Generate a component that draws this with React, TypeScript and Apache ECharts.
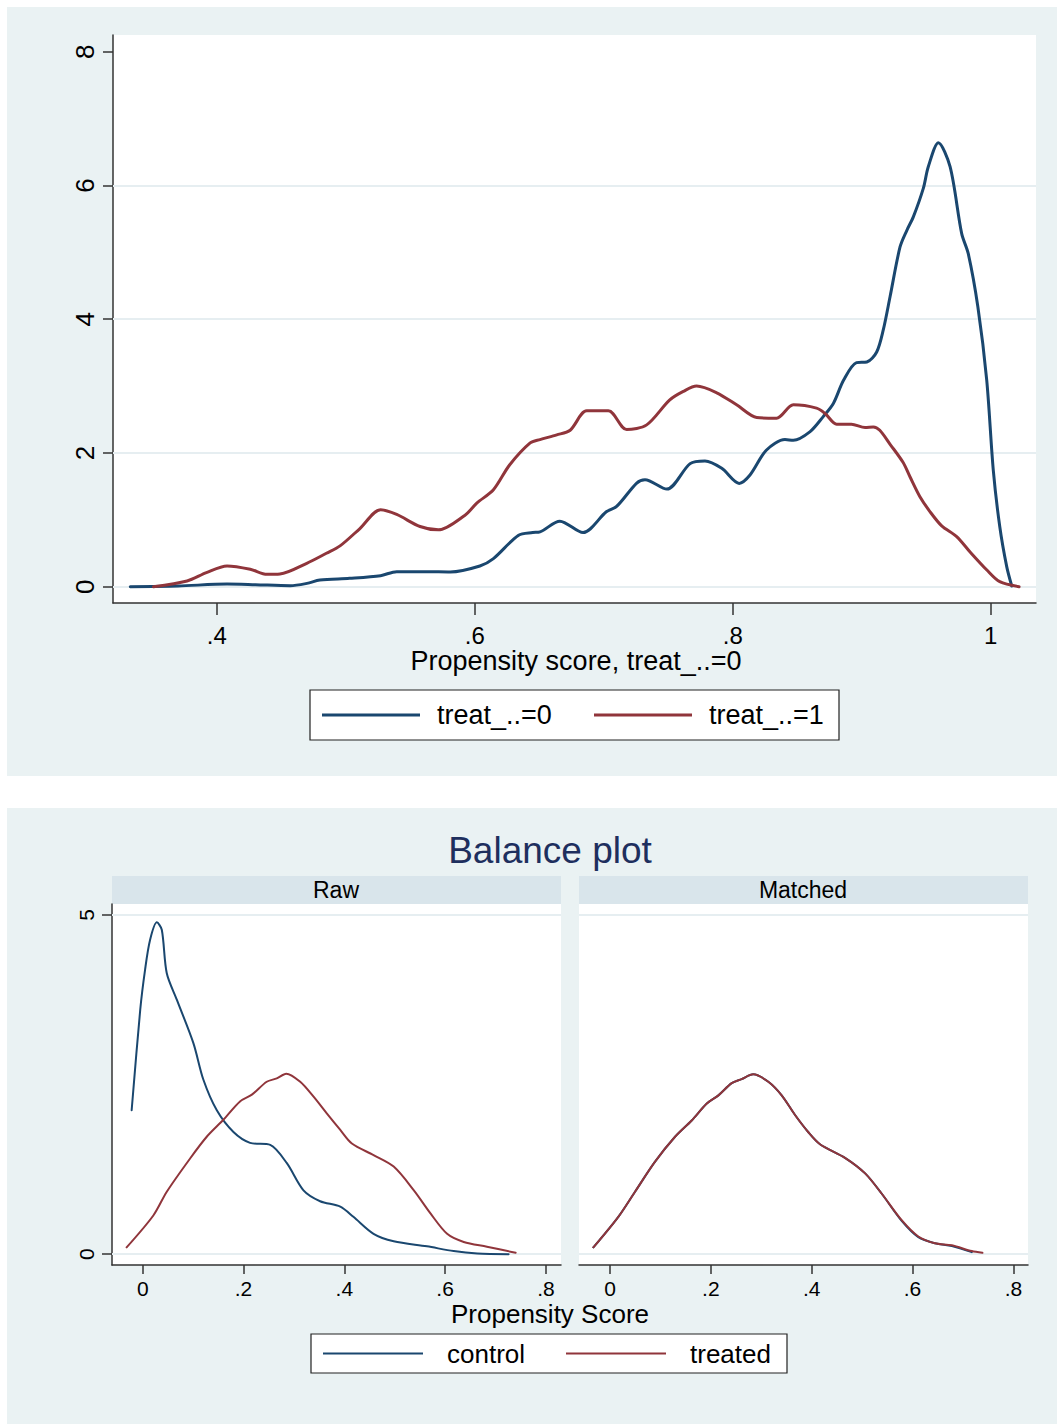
import React, { useEffect, useRef } from 'react';
import * as echarts from 'echarts';

const NAVY = '#1a476f';
const MAROON = '#90353b';
const PANEL_BG = '#eaf2f3';
const STRIP_BG = '#d9e5eb';
const GRID_LINE = '#e6eef1';
const AXIS_COLOR = '#333333';
const FONT = '"Liberation Sans", Arial, Helvetica, sans-serif';

// ---------- Top chart: kernel densities of the propensity score ----------
const topXTicks = [0.4, 0.6, 0.8, 1];
const topYTicks = [0, 2, 4, 6, 8];
const topGridValues = [0, 2, 4, 6];
const topSeriesNames = ['treat_..=0', 'treat_..=1'];
const topXTitle = 'Propensity score, treat_..=0';

const treat0X = [0.333, 0.37, 0.408, 0.43, 0.457, 0.47, 0.48, 0.503, 0.527, 0.5395, 0.563, 0.581, 0.604, 0.6145, 0.634, 0.645, 0.6506, 0.666, 0.684, 0.702, 0.71, 0.7256, 0.732, 0.749, 0.767, 0.7785, 0.7915, 0.805, 0.8134, 0.826, 0.8405, 0.847, 0.86, 0.87, 0.878, 0.886, 0.896, 0.904, 0.9116, 0.9167, 0.922, 0.9297, 0.935, 0.94, 0.9478, 0.9516, 0.9594, 0.9685, 0.9775, 0.9826, 0.99, 0.9969, 1.002, 1.007, 1.0124, 1.0163];
const treat0Y = [0, 0.01, 0.04, 0.03, 0.015, 0.05, 0.1, 0.125, 0.165, 0.225, 0.225, 0.22, 0.31, 0.42, 0.77, 0.81, 0.82, 0.98, 0.81, 1.12, 1.2, 1.55, 1.6, 1.46, 1.84, 1.88, 1.77, 1.545, 1.67, 2.04, 2.2, 2.19, 2.32, 2.54, 2.74, 3.09, 3.35, 3.36, 3.51, 3.84, 4.34, 5.08, 5.33, 5.53, 5.96, 6.28, 6.64, 6.28, 5.28, 4.98, 4.19, 3.09, 1.74, 0.9, 0.3, 0.01];

const treat1X = [0.351, 0.377, 0.392, 0.408, 0.426, 0.439, 0.449, 0.4698, 0.485, 0.4956, 0.511, 0.527, 0.5395, 0.5576, 0.5718, 0.5925, 0.6016, 0.6145, 0.627, 0.643, 0.6506, 0.6636, 0.674, 0.6868, 0.7036, 0.7178, 0.7333, 0.751, 0.7617, 0.772, 0.7876, 0.803, 0.8186, 0.834, 0.847, 0.865, 0.8716, 0.8806, 0.892, 0.9026, 0.909, 0.914, 0.922, 0.932, 0.9375, 0.945, 0.953, 0.962, 0.9736, 0.984, 0.997, 1.007, 1.022];
const treat1Y = [0, 0.085, 0.21, 0.31, 0.26, 0.185, 0.19, 0.35, 0.5, 0.61, 0.87, 1.15, 1.08, 0.9, 0.85, 1.07, 1.25, 1.45, 1.82, 2.15, 2.2, 2.27, 2.34, 2.63, 2.63, 2.35, 2.42, 2.79, 2.92, 3.0, 2.9, 2.72, 2.53, 2.52, 2.72, 2.67, 2.59, 2.43, 2.43, 2.38, 2.39, 2.34, 2.13, 1.86, 1.64, 1.35, 1.12, 0.91, 0.75, 0.52, 0.25, 0.075, 0];

// ---------- Bottom chart: Balance plot ----------
const balanceTitle = 'Balance plot';
const panelTitles = ['Raw', 'Matched'];
const balXTicks = [0, 0.2, 0.4, 0.6, 0.8];
const balYTicks = [0, 5];
const balGridValues = [0, 5];
const balSeriesNames = ['control', 'treated'];
const balXTitle = 'Propensity Score';

const rawControlX = [-0.022, -0.005, 0.0046, 0.0145, 0.028, 0.0378, 0.0477, 0.0676, 0.1005, 0.1204, 0.147, 0.18, 0.213, 0.253, 0.286, 0.319, 0.352, 0.392, 0.418, 0.458, 0.498, 0.564, 0.617, 0.664, 0.726];
const rawControlY = [2.12, 3.6, 4.19, 4.63, 4.89, 4.78, 4.14, 3.75, 3.11, 2.57, 2.12, 1.8, 1.64, 1.61, 1.34, 0.94, 0.78, 0.7, 0.55, 0.3, 0.19, 0.115, 0.045, 0.01, 0];

const rawTreatedX = [-0.032, 0.021, 0.0477, 0.094, 0.127, 0.16, 0.193, 0.2166, 0.246, 0.266, 0.2847, 0.3125, 0.339, 0.3656, 0.392, 0.415, 0.458, 0.498, 0.538, 0.571, 0.604, 0.637, 0.683, 0.74];
const rawTreatedY = [0.1, 0.57, 0.92, 1.41, 1.73, 1.98, 2.25, 2.35, 2.54, 2.59, 2.66, 2.54, 2.32, 2.07, 1.83, 1.63, 1.46, 1.29, 0.94, 0.6, 0.3, 0.18, 0.11, 0.02];

const matchedControlX = [-0.033, 0.0165, 0.0496, 0.089, 0.129, 0.162, 0.192, 0.215, 0.2414, 0.261, 0.284, 0.314, 0.3405, 0.367, 0.393, 0.4165, 0.466, 0.506, 0.539, 0.5785, 0.6115, 0.6446, 0.678, 0.7175];
const matchedControlY = [0.1, 0.55, 0.92, 1.36, 1.73, 1.97, 2.22, 2.34, 2.52, 2.58, 2.65, 2.54, 2.34, 2.05, 1.8, 1.62, 1.42, 1.19, 0.89, 0.49, 0.25, 0.16, 0.12, 0.03];

const matchedTreatedX = [-0.033, 0.0165, 0.0496, 0.089, 0.129, 0.162, 0.192, 0.215, 0.2414, 0.261, 0.284, 0.314, 0.3405, 0.367, 0.393, 0.4165, 0.466, 0.506, 0.539, 0.5785, 0.6115, 0.6446, 0.678, 0.7175, 0.7386];
const matchedTreatedY = [0.1, 0.55, 0.92, 1.36, 1.73, 1.97, 2.22, 2.34, 2.52, 2.58, 2.65, 2.54, 2.34, 2.05, 1.8, 1.62, 1.42, 1.19, 0.89, 0.5, 0.26, 0.16, 0.13, 0.045, 0.02];

const zip = (xs: number[], ys: number[]) => xs.map((x, i) => [x, ys[i]]);

const fmtTick = (v: number) => {
  if (Math.abs(v) < 1e-9) return '0';
  if (Math.abs(v - Math.round(v)) < 1e-9) return String(Math.round(v));
  return String(+v.toFixed(2)).replace(/^0\./, '.');
};

const gridMarkLine = (vals: number[]) => ({
  silent: true,
  z: 1,
  symbol: ['none', 'none'],
  label: { show: false },
  emphasis: { disabled: true },
  lineStyle: { color: GRID_LINE, width: 2, type: 'solid' },
  data: vals.map((v) => ({ yAxis: v })),
});

const lineSeries = (name: string, data: number[][], color: string, width: number, xi: number, extra: any = {}) => ({
  type: 'line',
  name,
  data,
  xAxisIndex: xi,
  yAxisIndex: xi,
  showSymbol: false,
  symbol: 'none',
  smooth: 0.3,
  z: 2,
  lineStyle: { color, width, join: 'round', cap: 'round' },
  itemStyle: { color },
  emphasis: { disabled: true },
  ...extra,
});

const xAxisCfg = (gridIndex: number, min: number, max: number, ticks: number[], fontSize: number, margin: number, tickLen: number) => ({
  type: 'value',
  gridIndex,
  min,
  max,
  axisLine: { show: true, onZero: false, lineStyle: { color: AXIS_COLOR, width: 1.5 } },
  axisTick: { show: true, customValues: ticks, length: tickLen, lineStyle: { color: AXIS_COLOR, width: 1.5 } },
  axisLabel: { show: true, customValues: ticks, formatter: fmtTick, fontSize, margin, color: '#000', fontFamily: FONT },
  splitLine: { show: false },
});

const yAxisCfg = (gridIndex: number, min: number, max: number, ticks: number[], fontSize: number, margin: number, tickLen: number, visible: boolean) => ({
  type: 'value',
  gridIndex,
  min,
  max,
  show: visible,
  axisLine: { show: true, onZero: false, lineStyle: { color: AXIS_COLOR, width: 1.5 } },
  axisTick: { show: true, customValues: ticks, length: tickLen, lineStyle: { color: AXIS_COLOR, width: 1.5 } },
  axisLabel: { show: true, customValues: ticks, formatter: fmtTick, fontSize, margin, rotate: 90, color: '#000', fontFamily: FONT },
  splitLine: { show: false },
});

const legendGroup = (box: { x: number; y: number; w: number; h: number }, items: { x1: number; x2: number; tx: number; label: string; color: string }[], lineW: number, fontSize: number) => [
  { type: 'rect', shape: { x: box.x, y: box.y, width: box.w, height: box.h }, style: { fill: '#fff', stroke: '#222', lineWidth: 1.2 }, z: 5 },
  ...items.flatMap((it) => [
    { type: 'line', shape: { x1: it.x1, y1: box.y + box.h / 2, x2: it.x2, y2: box.y + box.h / 2 }, style: { stroke: it.color, lineWidth: lineW }, z: 6 },
    { type: 'text', x: it.tx, y: box.y + box.h / 2, style: { text: it.label, fontSize, fontFamily: FONT, fill: '#000', textAlign: 'left', textVerticalAlign: 'middle' }, z: 6 },
  ]),
];

export default function App() {
  const ref = useRef<HTMLDivElement>(null);

  useEffect(() => {
    if (!ref.current) return;
    const chart = echarts.init(ref.current, null, { renderer: 'svg' });

    const option: any = {
      animation: false,
      backgroundColor: '#ffffff',
      grid: [
        { left: 113, top: 35, width: 923, height: 568, show: true, backgroundColor: '#fff', borderWidth: 0 },
        { left: 112, top: 904, width: 449, height: 361, show: true, backgroundColor: '#fff', borderWidth: 0 },
        { left: 579, top: 904, width: 449, height: 361, show: true, backgroundColor: '#fff', borderWidth: 0 },
      ],
      xAxis: [
        xAxisCfg(0, 0.3196, 1.0351, topXTicks, 24, 20, 12),
        xAxisCfg(1, -0.061, 0.83, balXTicks, 21, 13, 9),
        xAxisCfg(2, -0.0615, 0.829, balXTicks, 21, 13, 9),
      ],
      yAxis: [
        yAxisCfg(0, -0.2437, 8.25, topYTicks, 26, 15, 10, true),
        yAxisCfg(1, -0.16, 5.16, balYTicks, 21, 15, 10, true),
        yAxisCfg(2, -0.16, 5.16, balYTicks, 21, 15, 10, false),
      ],
      series: [
        lineSeries(topSeriesNames[0], zip(treat0X, treat0Y), NAVY, 3, 0, { markLine: gridMarkLine(topGridValues) }),
        lineSeries(topSeriesNames[1], zip(treat1X, treat1Y), MAROON, 3, 0),
        lineSeries(balSeriesNames[0], zip(rawControlX, rawControlY), NAVY, 2, 1, { markLine: gridMarkLine(balGridValues) }),
        lineSeries(balSeriesNames[1], zip(rawTreatedX, rawTreatedY), MAROON, 2, 1),
        lineSeries(balSeriesNames[0], zip(matchedControlX, matchedControlY), NAVY, 2, 2, { markLine: gridMarkLine(balGridValues) }),
        lineSeries(balSeriesNames[1], zip(matchedTreatedX, matchedTreatedY), MAROON, 2, 2),
      ],
      graphic: [
        { type: 'rect', shape: { x: 7, y: 7, width: 1050, height: 769 }, style: { fill: PANEL_BG }, z: -10, silent: true },
        { type: 'rect', shape: { x: 7, y: 808, width: 1050, height: 616 }, style: { fill: PANEL_BG }, z: -10, silent: true },
        { type: 'text', x: 576, y: 661, style: { text: topXTitle, fontSize: 27, fontFamily: FONT, fill: '#000', textAlign: 'center', textVerticalAlign: 'middle' } },
        ...legendGroup({ x: 310, y: 690, w: 529, h: 50 }, [
          { x1: 322, x2: 420, tx: 437, label: topSeriesNames[0], color: NAVY },
          { x1: 594, x2: 692, tx: 709, label: topSeriesNames[1], color: MAROON },
        ], 3, 27),
        { type: 'text', x: 550, y: 850, style: { text: balanceTitle, fontSize: 37, fontFamily: FONT, fill: '#1e2f5e', textAlign: 'center', textVerticalAlign: 'middle' } },
        { type: 'rect', shape: { x: 112, y: 876, width: 449, height: 28 }, style: { fill: STRIP_BG }, silent: true },
        { type: 'rect', shape: { x: 579, y: 876, width: 449, height: 28 }, style: { fill: STRIP_BG }, silent: true },
        { type: 'text', x: 336, y: 890, style: { text: panelTitles[0], fontSize: 23, fontFamily: FONT, fill: '#000', textAlign: 'center', textVerticalAlign: 'middle' } },
        { type: 'text', x: 803, y: 890, style: { text: panelTitles[1], fontSize: 23, fontFamily: FONT, fill: '#000', textAlign: 'center', textVerticalAlign: 'middle' } },
        { type: 'text', x: 550, y: 1314, style: { text: balXTitle, fontSize: 26, fontFamily: FONT, fill: '#000', textAlign: 'center', textVerticalAlign: 'middle' } },
        ...legendGroup({ x: 311, y: 1334, w: 476, h: 39 }, [
          { x1: 323, x2: 423, tx: 447, label: balSeriesNames[0], color: NAVY },
          { x1: 566, x2: 666, tx: 690, label: balSeriesNames[1], color: MAROON },
        ], 2, 26),
      ],
    };

    chart.setOption(option);
    return () => chart.dispose();
  }, []);

  return <div ref={ref} style={{ position: 'absolute', left: 0, top: 0, width: 1057, height: 1424 }} />;
}
